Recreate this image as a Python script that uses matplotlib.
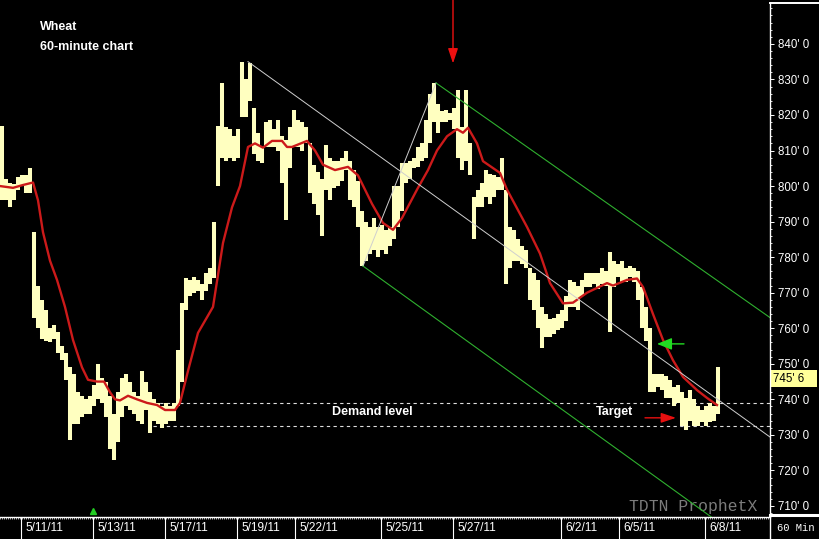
import matplotlib
matplotlib.use("Agg")
import matplotlib.pyplot as plt
import numpy as np
from matplotlib.lines import Line2D
from matplotlib.ticker import FuncFormatter, FixedLocator, MultipleLocator

# 60-minute bars, one entry per bar (high / low, cents per bushel)
bar_hi = [817, 802, 801, 800.5, 802.5, 803, 803, 805, 787, 772,
          768, 765, 760, 761, 759, 755, 753, 749, 747, 742,
          741, 740, 741, 744, 750, 746, 745, 741, 736, 742,
          746, 747, 745, 742, 741, 748, 745, 742, 740, 739,
          738, 739, 738, 739, 754, 767, 774, 773.5, 774.5, 773.5,
          772.5, 775.5, 777, 790, 817, 829, 816.5, 816, 814, 816,
          835, 830, 834.5, 822, 815, 811, 818, 818.5, 816, 818.5,
          814, 813, 816.5, 821.5, 818.5, 818, 816.5, 812, 806, 804,
          802, 811.5, 808, 807, 807, 808, 810, 807, 804.5, 801.5,
          793, 790, 788.5, 791, 788.5, 789, 787.5, 788.5, 800, 800,
          806.5, 806.5, 807, 808, 811, 812, 818.5, 826, 829, 823,
          821, 821.5, 820.5, 822, 827, 816.5, 827, 812, 797, 799,
          801, 804.5, 803.5, 803, 802.5, 808, 799, 788.5, 787.5, 785,
          783, 782, 777, 775.5, 773.5, 766, 764, 762.5, 763, 764,
          765, 769, 773.5, 773, 772, 773.5, 775.5, 775.5, 775.5, 775.5,
          777, 776, 781.5, 779, 778, 779, 777, 777.5, 777, 776,
          771.5, 766, 760, 747, 747, 747, 746.5, 745.5, 743.5, 744,
          742, 740.5, 742.5, 740, 738, 737, 738, 739, 738, 749]
bar_lo = [796, 796, 794, 796, 799, 800, 798, 798, 763, 760,
          757, 756.5, 756, 757, 753, 751, 745.5, 728.5, 733, 733,
          735, 736, 736, 738, 740, 739, 735, 726, 723, 728,
          735, 738, 737, 736, 734, 733, 737, 730.5, 734, 733,
          732, 733, 734, 734, 738, 745, 765, 769, 770, 770.5,
          768, 770.5, 772.5, 774, 800, 808, 807, 808, 807, 808,
          819.5, 819.5, 824, 809, 807, 806.5, 811, 811, 811, 810,
          801, 790.5, 805, 811, 811, 810, 812, 798, 795, 792,
          786, 799, 796, 799.5, 800, 801.5, 804.5, 796, 794, 788.5,
          777.5, 779, 781, 782, 780, 782, 781, 783, 785, 788.5,
          793, 801, 802, 805, 805.5, 807, 808, 812, 818, 815,
          818, 818, 818.5, 816, 808, 804.5, 807, 803, 785, 794,
          794, 797, 795, 797, 799, 799, 772.5, 777, 779, 779,
          778, 777, 768, 765, 760, 754.5, 757.5, 757.5, 758.5, 759.5,
          760, 762, 766, 766, 765, 769, 771.5, 771.5, 772.5, 771,
          772.5, 772, 759, 771.5, 774.5, 773, 773, 774.5, 773, 768,
          760, 756.5, 742, 742, 743.5, 742.5, 740.5, 740.5, 738, 739,
          732.5, 731.5, 734, 732.5, 732.5, 733.5, 732.5, 733.5, 734, 736]
last_price = 745.75  # 745'6

# red moving average (bar position, value)
ma_x = [-0.5, 2.75, 5.25, 7.75, 9, 10.25, 12, 13.75, 15.75, 17.75,
        20, 21.5, 23.75, 25.5, 27, 28.25, 29.5, 31.5, 33.75, 36.25,
        38.75, 40.75, 43.25, 44.5, 46.5, 49, 52.75, 55.25, 57.5, 59.5,
        61.5, 63.25, 65.25, 67.5, 70, 71.25, 72.5, 76.25, 78.25, 80.25,
        83.25, 86.5, 89, 92.5, 95.25, 97.75, 100, 103.75, 106.5, 108.75,
        111.25, 113.75, 115.25, 116.5, 118.75, 120.25, 124.5, 126.25, 131.25, 134.5,
        137, 140.25, 142.75, 146.25, 151.25, 152.75, 156.25, 158.75, 160.25, 162.75,
        165.25, 167.75, 170.25, 173.75, 176.25, 178.75]
ma_val = [800, 799.5, 800.3, 801, 796, 787, 779, 773.6, 766, 756.7,
          749, 745.5, 745, 745, 742, 740, 739.7, 741, 740, 739,
          738.4, 737, 737, 739, 748, 758.7, 766, 784, 794, 800,
          811, 812, 810.8, 812.7, 812.7, 811, 811, 812.7, 810, 806,
          804.5, 805.4, 803, 795, 789.6, 787.7, 791, 799, 804.5, 810,
          814, 816, 815, 816.4, 812, 807, 803.7, 799, 788.5, 781,
          772.7, 767, 767.2, 770, 772.7, 772, 773.6, 774, 771.6, 764,
          756.7, 751, 746.3, 742.6, 740.4, 738.4]

# trend channel
mid_line = ([61.5, 192], [835, 729.4])
swing_line = ([90.25, 108.5], [777.5, 829])
upper_line = ([108.5, 192], [829, 763])
lower_line = ([90.25, 192], [777.5, 695])

demand_level = 739
target_level = 732.5
level_start = 37.75

price_ticks = list(range(710, 841, 10))
date_pos = [4.75, 22.75, 40.75, 58.75, 73.25, 94.75, 112.75, 139.75, 154.25, 175.75]
date_labels = ["5/11/11", "5/13/11", "5/17/11", "5/19/11", "5/22/11",
               "5/25/11", "5/27/11", "6/2/11", "6/5/11", "6/8/11"]

plt.rcParams['font.family'] = ['Liberation Sans', 'DejaVu Sans']

W, H = 820, 539
fig = plt.figure(figsize=(W / 100, H / 100), dpi=100, facecolor='black')
ax = fig.add_axes([0, 22 / H, 770 / W, 514 / H])
ax.set_facecolor('black')

idx = np.arange(len(bar_hi))
ax.vlines(idx, bar_lo, bar_hi, colors='#FFFFC0', linewidth=2.9, zorder=3)
ax.plot(ma_x, ma_val, color='#CC1A1A', lw=1.7, zorder=4)

ax.plot(*mid_line, color='#CFCFCF', lw=0.7, zorder=5)
ax.plot(*swing_line, color='#CFCFCF', lw=0.7, zorder=5)
ax.plot(*upper_line, color='#2FB02F', lw=0.8, zorder=5)
ax.plot(*lower_line, color='#2FB02F', lw=0.8, zorder=5)

ax.hlines([demand_level, target_level], level_start, 192, colors='#DDDDDD',
          linestyles=(0, (3, 3)), lw=0.8, zorder=2)

ax.text(92.5, 736.3, "Demand level", color='white', fontsize=9,
        fontweight='bold', ha='center', va='center', zorder=6)
ax.text(153.25, 736.3, "Target", color='white', fontsize=9,
        fontweight='bold', ha='center', va='center', zorder=6)

ax.annotate('', xy=(168.5, 734.8), xytext=(160.75, 734.8),
            arrowprops=dict(arrowstyle='-|>,head_length=0.9,head_width=0.3',
                            color='#E81010', lw=1, shrinkA=0, shrinkB=0,
                            mutation_scale=10), zorder=7)
ax.annotate('', xy=(163.75, 755.6), xytext=(170.5, 755.6),
            arrowprops=dict(arrowstyle='-|>,head_length=0.9,head_width=0.36',
                            color='#22DD22', lw=1, shrinkA=0, shrinkB=0,
                            mutation_scale=10), zorder=7)
ax.annotate('', xy=(112.75, 834.5), xytext=(112.75, 853),
            arrowprops=dict(arrowstyle='-|>,head_length=0.9,head_width=0.3',
                            color='#EE1010', lw=1, shrinkA=0, shrinkB=0,
                            mutation_scale=10), annotation_clip=False, zorder=7)

ax.set_xlim(-0.5, 192)
ax.set_ylim(706.9, 851.5)

# right price axis
ax.yaxis.tick_right()
ax.yaxis.set_major_locator(FixedLocator(price_ticks))
ax.yaxis.set_minor_locator(MultipleLocator(2))
ax.yaxis.set_major_formatter(FuncFormatter(lambda v, p: f"{int(round(v))}' 0"))
ax.tick_params(axis='y', which='major', direction='out', length=3, width=0.7,
               colors='white', labelsize=8.3, pad=3)
ax.tick_params(axis='y', which='minor', direction='out', length=1.5, width=0.6,
               colors='white')

# date axis: long separators plus a fine ruler
ax.set_xticks(date_pos)
ax.set_xticklabels([])
ax.set_xticks(np.arange(-0.5, 192, 0.5), minor=True)
ax.tick_params(axis='x', which='major', direction='out', length=15.8, width=0.8,
               color='white')
ax.tick_params(axis='x', which='minor', direction='out', length=1.5, width=0.5,
               color='white')
for p, lab in zip(date_pos, date_labels):
    ax.text(p + 1.2, -0.0215, lab, transform=ax.get_xaxis_transform(),
            color='white', fontsize=8.6, ha='left', va='center', clip_on=False)

ax.plot([22.75], [0.012], marker='^', color='#22CC22', markersize=4.5,
        transform=ax.get_xaxis_transform(), clip_on=False)

for side in ['top', 'left', 'right']:
    ax.spines[side].set_visible(False)
ax.spines['bottom'].set_color('white')
ax.spines['bottom'].set_linewidth(1)

ax.text(1 + 3 / 770, last_price, "745' 6   ", transform=ax.get_yaxis_transform(),
        color='black', fontsize=8.3, ha='left', va='center', clip_on=False,
        bbox=dict(boxstyle='square,pad=0.22', fc='#FFFF99', ec='none'), zorder=8)


def fpx(x, y):
    return x / W, 1 - y / H


for (x0, y0), (x1, y1), lw in [((770, 3), (820, 3), 1.4),
                               ((770, 3), (770, 539), 1.0),
                               ((770, 514.5), (820, 514.5), 2.2)]:
    a, b = fpx(x0, y0)
    c, d = fpx(x1, y1)
    fig.add_artist(Line2D([a, c], [b, d], color='white', lw=lw,
                          transform=fig.transFigure))

fig.text(*fpx(777, 528), "60 Min", family='Liberation Mono', color='white',
         fontsize=7.6, ha='left', va='center')
ax.text(*fpx(629, 507), "TDTN ProphetX", transform=fig.transFigure,
        family='Liberation Mono', color='#7C7C7C', fontsize=11.8,
        ha='left', va='center', zorder=1)
fig.text(*fpx(40, 27), "Wheat", color='white', fontsize=9, fontweight='bold',
         ha='left', va='center')
fig.text(*fpx(40, 47), "60-minute chart", color='white', fontsize=9,
         fontweight='bold', ha='left', va='center')

fig.savefig("out.png", dpi=100, facecolor='black')
